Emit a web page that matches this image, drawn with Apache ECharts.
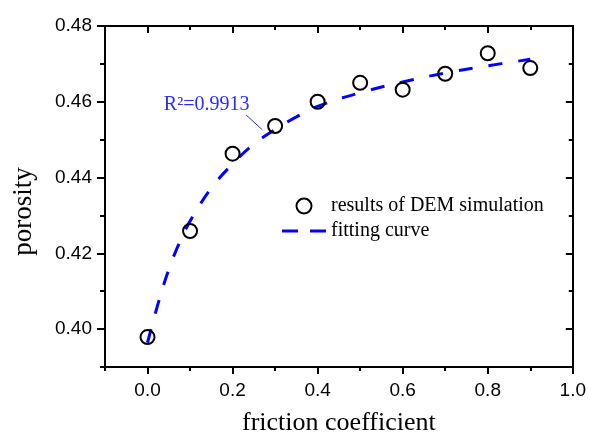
<!DOCTYPE html>
<html>
<head>
<meta charset="utf-8">
<script src="https://cdn.jsdelivr.net/npm/echarts@6/dist/echarts.min.js"></script>
<style>
html,body{margin:0;padding:0;background:#fff;}
#chart{width:589px;height:441px;}
</style>
</head>
<body>
<div id="chart"></div>
<script>
// ---- data ----
const simX = [0.0, 0.1, 0.2, 0.3, 0.4, 0.5, 0.6, 0.7, 0.8, 0.9];
const simY = [0.3979, 0.4259, 0.4463, 0.4536, 0.4600, 0.4650, 0.4632, 0.4674, 0.4728, 0.4689];
const fitX = [0, 0.025, 0.05, 0.075, 0.1, 0.15, 0.2, 0.25, 0.3, 0.35, 0.4, 0.5, 0.6, 0.7, 0.8, 0.9];
const fitY = [0.3964, 0.4068, 0.4157, 0.4228, 0.4285, 0.4372, 0.4436, 0.4488, 0.4527, 0.4560, 0.4588, 0.4624, 0.4652, 0.4676, 0.4695, 0.4712];
const xMajorTicks = [0.0, 0.2, 0.4, 0.6, 0.8, 1.0];
const xMinorTicks = [-0.1, 0.1, 0.3, 0.5, 0.7, 0.9];
const yMajorTicks = [0.40, 0.42, 0.44, 0.46, 0.48];
const yMinorTicks = [0.39, 0.41, 0.43, 0.45, 0.47];
const seriesNames = ['results of DEM simulation', 'fitting curve'];
const r2Text = 'R\u00b2=0.9913';
const r2LabelPos = [0.139, 0.4591];
const r2Arrow = [[0.232, 0.4565], [0.270, 0.4526]];

const X_MIN = -0.1, X_MAX = 1.0, Y_MIN = 0.39, Y_MAX = 0.48;
const SANS = 'Liberation Sans, Arial, sans-serif';
const SERIF = 'Liberation Serif, Times New Roman, serif';

function xAx(position, ticks, len, inside, labels, extra) {
  return Object.assign({
    type: 'value', gridIndex: 0, position: position, min: X_MIN, max: X_MAX,
    axisLine: { show: true, onZero: false, lineStyle: { color: '#000', width: 2 } },
    axisTick: { show: true, inside: inside, length: len, customValues: ticks, lineStyle: { color: '#000', width: 2 } },
    axisLabel: labels ? {
      show: true, customValues: ticks, formatter: v => v.toFixed(1),
      color: '#000', fontFamily: SANS, fontSize: 19, margin: 14
    } : { show: false },
    splitLine: { show: false }
  }, extra || {});
}
function yAx(position, ticks, len, inside, labels, extra) {
  return Object.assign({
    type: 'value', gridIndex: 0, position: position, min: Y_MIN, max: Y_MAX,
    axisLine: { show: true, onZero: false, lineStyle: { color: '#000', width: 2 } },
    axisTick: { show: true, inside: inside, length: len, customValues: ticks, lineStyle: { color: '#000', width: 2 } },
    axisLabel: labels ? {
      show: true, customValues: ticks, formatter: v => v.toFixed(2),
      color: '#000', fontFamily: SANS, fontSize: 19, margin: 13
    } : { show: false },
    splitLine: { show: false }
  }, extra || {});
}

const chart = echarts.init(document.getElementById('chart'), null, { renderer: 'canvas' });
chart.setOption({
  animation: false,
  backgroundColor: '#fff',
  grid: { left: 105, top: 26, width: 468, height: 349 },
  xAxis: [
    xAx('bottom', xMajorTicks, 7, false, true, {
      name: 'friction coefficient', nameLocation: 'middle', nameGap: 43,
      nameTextStyle: { color: '#000', fontFamily: SERIF, fontSize: 26 }
    }),
    xAx('bottom', xMinorTicks, 4, false, false),
    xAx('top', xMajorTicks, 7, true, false),
    xAx('top', xMinorTicks, 4, true, false)
  ],
  yAxis: [
    yAx('left', yMajorTicks, 8, false, true, {
      name: 'porosity', nameLocation: 'middle', nameGap: 68,
      nameTextStyle: { color: '#000', fontFamily: SERIF, fontSize: 27, padding: [0, 30, 0, 0] }
    }),
    yAx('left', yMinorTicks, 5, false, false),
    yAx('right', yMajorTicks, 7, true, false),
    yAx('right', yMinorTicks, 4, true, false)
  ],
  legend: {
    orient: 'vertical', left: 277, top: 191, itemWidth: 44, itemHeight: 15, itemGap: 5,
    textStyle: { color: '#000', fontFamily: SERIF, fontSize: 20 },
    data: [
      { name: seriesNames[0], icon: 'circle' },
      { name: seriesNames[1], icon: 'path://M0,0h16v3h-16zM28,0h16v3h-16z' }
    ]
  },
  series: [
    {
      name: seriesNames[1], type: 'line', xAxisIndex: 0, yAxisIndex: 0,
      data: fitX.map((x, i) => [x, fitY[i]]),
      smooth: 0.4, symbol: 'none', z: 2,
      lineStyle: { color: '#0000ff', width: 3, type: [14, 16], cap: 'butt' },
      itemStyle: { color: '#0000ff' },
      markLine: {
        silent: true, animation: false,
        symbol: ['none', 'arrow'], symbolSize: [0, 8],
        lineStyle: { color: '#2b2bff', width: 1, type: 'solid' },
        label: { show: false },
        data: [[{ coord: r2Arrow[0] }, { coord: r2Arrow[1] }]]
      },
      markPoint: {
        silent: true, animation: false,
        symbol: 'circle', symbolSize: 1,
        itemStyle: { color: 'rgba(0,0,0,0)' },
        label: { show: true, position: 'inside', formatter: r2Text, color: '#2b2bff', fontFamily: SERIF, fontSize: 20 },
        data: [{ coord: r2LabelPos }]
      }
    },
    {
      name: seriesNames[0], type: 'scatter', xAxisIndex: 0, yAxisIndex: 0,
      data: simX.map((x, i) => [x, simY[i]]),
      symbol: 'circle', symbolSize: 14, z: 3,
      itemStyle: { color: 'rgba(0,0,0,0)', borderColor: '#000', borderWidth: 2, opacity: 1 }
    }
  ]
});
</script>
</body>
</html>
